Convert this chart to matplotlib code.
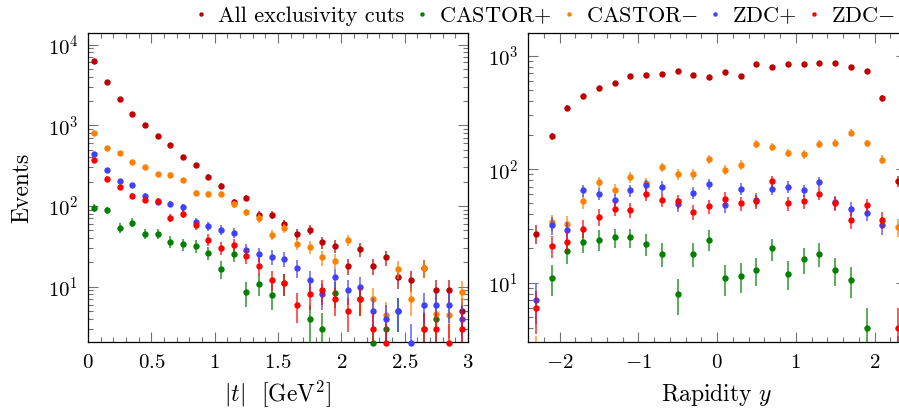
import numpy as np
import matplotlib
matplotlib.use("Agg")
import matplotlib.pyplot as plt
from matplotlib.ticker import MultipleLocator, LogLocator, NullFormatter
from matplotlib.lines import Line2D

plt.rcParams['font.family'] = 'serif'
plt.rcParams['font.serif'] = ['cmr10']
plt.rcParams['mathtext.fontset'] = 'cm'
plt.rcParams['axes.formatter.use_mathtext'] = True

# ---------------- data ----------------
names = ["All exclusivity cuts", "CASTOR$+$", "CASTOR$-$", "ZDC$+$", "ZDC$-$"]
colors = ["#BF0000", "#008000", "#FF8000", "#4040FF", "#FF0000"]

# |t| bin centres (GeV^2)
t_bins = [0.05, 0.15, 0.25, 0.35, 0.45, 0.55, 0.65, 0.75, 0.85, 0.95,
          1.05, 1.15, 1.25, 1.35, 1.45, 1.55, 1.65, 1.75, 1.85, 1.95,
          2.05, 2.15, 2.25, 2.35, 2.45, 2.55, 2.65, 2.75, 2.85, 2.95]
nan = float('nan')
t_all = [6340, 3480, 2120, 1370, 1000, 745, 566, 405, 323, 231,
         179, 113, 125, 77, 77, 60, 45, 51, 35.5, 32,
         18, 29, 18, 23, 13, 12, 17, 9, 9, 5]
t_castor_p = [95, 88.5, 54, 62, 45.4, 45.4, 36, 33.5, 31.7, 26.2,
              16.6, 25.4, 8.6, 10.9, 7.9, 11, nan, 4, 3, 8.4,
              1, 7, 2, 3, 5, nan, 3, 4, nan, nan]
t_castor_m = [798, 520, 455, 355, 305, 250, 245, 208, 146, 142,
              141, 105, 83.5, 70.5, 44, 53, 34, 31, 23, 21,
              38, 7, 7, 4.4, 16.5, 7, 17, 4.6, 4.4, 8.7]
t_zdc_p = [437, 280, 204, 181, 134, 113, 106, 96, 63.4, 56,
           51, 46.8, 28.5, 25.4, 23.3, 22, 17, 12, 8, 13,
           9, 10, 5, 4, 5, 2, 6, 6, 6, 4]
t_zdc_m = [369, 218, 172, 133, 120, 115, 71, 80, 57.7, 38.3,
           30.5, 33.2, 24.2, 18.2, 12.2, 11, 6, 8, 9, 7,
           5, 7, 3, 2, nan, nan, 3, 3, 2, 3]

# rapidity bin centres
y_bins = [-2.3, -2.1, -1.9, -1.7, -1.5, -1.3, -1.1, -0.9, -0.7, -0.5, -0.3, -0.1,
          0.1, 0.3, 0.5, 0.7, 0.9, 1.1, 1.3, 1.5, 1.7, 1.9, 2.1, 2.3]
y_all = [27, 195, 347, 442, 516, 579, 667, 676, 695, 733, 676, 649,
         723, 667, 850, 795, 850, 839, 868, 868, 800, 733, 427, 79]
y_castor_p = [nan, 11, 19, 23, 24, 25, 25, 22, 18, 8, 18, 24,
              11, 11.5, 13, 20, 12, 16, 18, 13, 10.5, 4, nan, nan]
y_castor_m = [2, 34, 33, 52, 77, 66, 85, 75, 104, 90, 90, 122,
              99, 109, 166, 156, 139, 135, 166, 171, 210, 169, 121, 31]
y_zdc_p = [7, 32, 29, 65, 61, 53, 65, 72, 70, 49, 62, 74,
           48, 67, 54, 67, 70, 65, 77, 51, 45, 41, 32, 2]
y_zdc_m = [6, 21, 23, 30, 38, 45, 44, 60, 54, 52, 42, 47,
           55, 50, 52, 79, 50, 52, 61, 50, 36, 48, 36, 4]

t_series = [t_all, t_castor_p, t_castor_m, t_zdc_p, t_zdc_m]
y_series = [y_all, y_castor_p, y_castor_m, y_zdc_p, y_zdc_m]

# ---------------- figure ----------------
W, H = 899, 409
TICK_FS, LABEL_FS, LEG_FS = 15, 17, 16
fig = plt.figure(figsize=(W / 100, H / 100), dpi=100)
axL = fig.add_axes([88 / W, 1 - 342 / H, 380 / W, 309.5 / H])
axR = fig.add_axes([528 / W, 1 - 342 / H, 378 / W, 309.5 / H])


def draw(ax, x, series, ylo):
    x = np.asarray(x, float)
    for k, (vals, col) in enumerate(zip(series, colors)):
        v = np.asarray(vals, float)
        err = np.sqrt(v)               # Poisson uncertainty
        lo = np.minimum(err, v * 0.999)
        ax.errorbar(x, v, yerr=[lo, err], fmt='none', ecolor=col,
                    elinewidth=1.4, alpha=0.65, capsize=0, zorder=2 + k)
        vis = np.where(v >= ylo * 0.97, v, np.nan)
        ax.plot(x, vis, 'o', color=col, ms=4.6, mew=0, clip_on=False,
                zorder=2.5 + k)


draw(axL, t_bins, t_series, 2.06)
draw(axR, y_bins, y_series, 3.0)

for ax in (axL, axR):
    ax.set_yscale('log')
    ax.yaxis.set_minor_locator(LogLocator(base=10, subs=np.arange(2, 10) * 1.0, numticks=30))
    ax.yaxis.set_minor_formatter(NullFormatter())
    ax.tick_params(which='both', direction='in', top=True, right=True, color='0.45')
    ax.tick_params(which='major', length=7, width=0.8, labelsize=TICK_FS)
    ax.tick_params(which='minor', length=3.8, width=0.8)
    ax.tick_params(axis='x', which='major', pad=9)
    ax.tick_params(axis='y', which='major', pad=7)
    for s in ax.spines.values():
        s.set_linewidth(0.9)

axL.set_xlim(0, 3)
axL.set_ylim(2.06, 14100)
axL.xaxis.set_major_locator(MultipleLocator(0.5))
axL.xaxis.set_minor_locator(MultipleLocator(0.1))
axL.xaxis.set_major_formatter(plt.FuncFormatter(lambda v, p: "$\\mathdefault{%g}$" % v))

axR.set_xlim(-2.4, 2.4)
axR.set_ylim(3.0, 1600)
axR.xaxis.set_major_locator(MultipleLocator(1))
axR.xaxis.set_minor_locator(MultipleLocator(0.2))

# axis titles
axL.set_xlabel(r"$|t|$  [GeV$^2$]", fontsize=LABEL_FS, va='baseline')
axR.set_xlabel(r"Rapidity $y$", fontsize=LABEL_FS, va='baseline')
axL.xaxis.set_label_coords(278 / W, 1 - 401 / H, transform=fig.transFigure)
axR.xaxis.set_label_coords(717 / W, 1 - 401 / H, transform=fig.transFigure)
axL.set_ylabel("Events", fontsize=LABEL_FS, va='baseline', rotation_mode='anchor')
axL.yaxis.set_label_coords(28 / W, 1 - 187.5 / H, transform=fig.transFigure)

handles = [Line2D([], [], ls='none', marker='o', ms=3.2, mew=0, color=c) for c in colors]
fig.legend(handles, names, loc='upper right', bbox_to_anchor=(895 / W, 1 - 5 / H), ncol=5,
           frameon=False, fontsize=LEG_FS, handlelength=0.4, handletextpad=0.57,
           columnspacing=0.57, borderaxespad=0, borderpad=0)

fig.savefig("out.png", dpi=100)
